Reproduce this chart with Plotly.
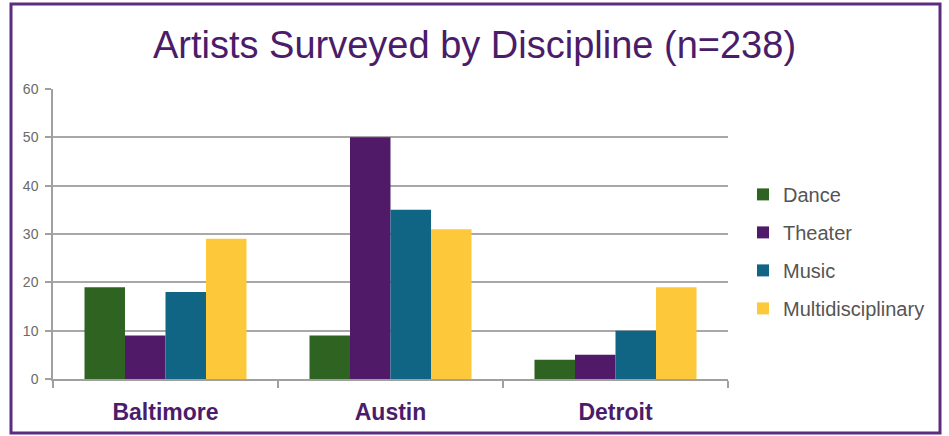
import plotly.graph_objects as go

cities = ["Baltimore", "Austin", "Detroit"]
dance = [19, 9, 4]
theater = [9, 50, 5]
music = [18, 35, 10]
multidisciplinary = [29, 31, 19]
y_ticks = [0, 10, 20, 30, 40, 50, 60]

series = [
    ("Dance", dance, "#2F6321"),
    ("Theater", theater, "#501A68"),
    ("Music", music, "#0F6583"),
    ("Multidisciplinary", multidisciplinary, "#FEC83B"),
]

fig = go.Figure()
for i, (name, vals, col) in enumerate(series):
    fig.add_trace(go.Bar(x=cities, y=vals, name=name, marker_color=col,
                         marker_line_width=0, legendgroup=name))

W, H = 949, 436
L, R, T, B = 53, 221, 89, 57
pw, ph = W - L - R, H - T - B

def px_x(p):
    return (p - L) / pw

def px_y(p):
    return (H - B - p) / ph

FONT = "Liberation Sans, Arial"
fig.update_layout(
    width=W, height=H,
    margin=dict(l=L, r=R, t=T, b=B),
    paper_bgcolor="white", plot_bgcolor="white",
    barmode="group", bargap=0.28, bargroupgap=0,
    title=dict(text="Artists Surveyed by Discipline (n=238)",
               x=0.5, xanchor="center", y=1 - 45 / H, yanchor="middle",
               font=dict(family=FONT, size=38, color="#4A1C6A")),
    legend=dict(x=px_x(743), xanchor="left", y=0.44, yanchor="middle",
                font=dict(family=FONT, size=20, color="#555555"),
                tracegroupgap=9, itemwidth=30, bgcolor="rgba(0,0,0,0)"),
    showlegend=True,
    shapes=[dict(type="rect", xref="paper", yref="paper",
                 x0=px_x(11), x1=px_x(940), y0=px_y(433), y1=px_y(4),
                 line=dict(color="#5A2D82", width=3), fillcolor="rgba(0,0,0,0)",
                 layer="below")],
)
fig.update_xaxes(
    showline=True, linecolor="#A0A0A0", linewidth=1.5,
    ticks="outside", tickson="boundaries", ticklen=7, tickcolor="#A0A0A0", tickwidth=1.5,
    tickfont=dict(family=FONT, size=23, color="#4A1C6A"),
    ticklabelstandoff=12, showgrid=False,
    tickvals=cities, ticktext=[f"<b>{c}</b>" for c in cities],
)
fig.update_yaxes(
    range=[0, 60], tickvals=y_ticks,
    showline=True, linecolor="#A0A0A0", linewidth=1.5,
    showgrid=True, gridcolor="#A8A8A8", gridwidth=1.5,
    ticks="outside", ticklen=6, tickcolor="#A0A0A0", tickwidth=1.5,
    tickfont=dict(family=FONT, size=14, color="#6A6A6A"),
    ticklabelstandoff=4, zeroline=False,
)
fig.write_html("out.html", config={"displayModeBar": False},
               post_script="document.body.style.margin='0';")
